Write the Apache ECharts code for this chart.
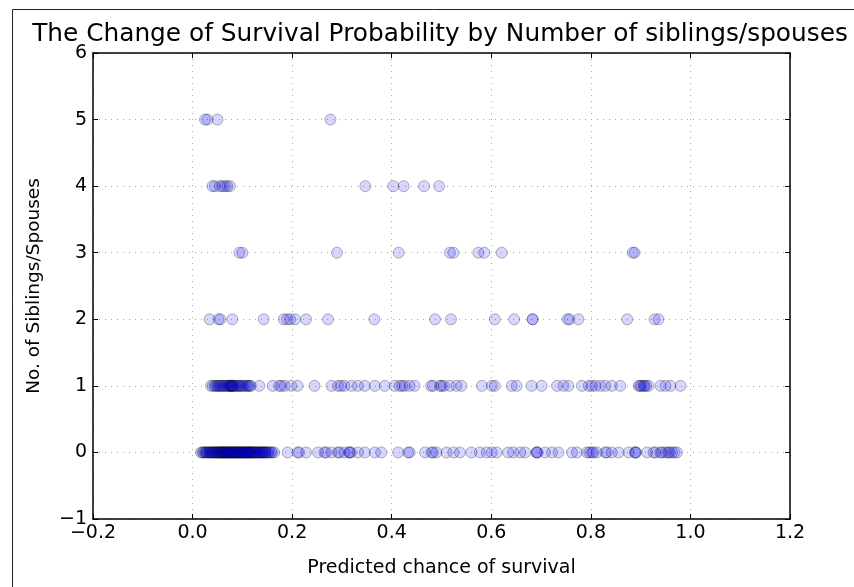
<!DOCTYPE html>
<html>
<head>
<meta charset="utf-8">
<script src="https://cdn.jsdelivr.net/npm/echarts@6/dist/echarts.min.js"></script>
<style>html,body{margin:0;padding:0;background:#fff}#c{width:854px;height:587px}</style>
</head>
<body>
<div id="c"></div>
<script>
var titleText = 'The Change of Survival Probability by Number of siblings/spouses';
var xName = 'Predicted chance of survival';
var yName = 'No. of Siblings/Spouses';
var xTicks = [-0.2, 0.0, 0.2, 0.4, 0.6, 0.8, 1.0, 1.2];
var yTicks = [-1, 0, 1, 2, 3, 4, 5, 6];

var sib0 = [0.017, 0.020, 0.022, 0.025, 0.027, 0.028, 0.031, 0.033, 0.035, 0.036, 0.038, 0.040, 0.041, 0.043, 0.045, 0.046, 0.048, 0.050, 0.051, 0.052, 0.054, 0.055, 0.057, 0.058, 0.059, 0.060, 0.062, 0.063, 0.064, 0.066, 0.067, 0.068, 0.070, 0.071, 0.072, 0.073, 0.075, 0.076, 0.077, 0.078, 0.080, 0.081, 0.082, 0.084, 0.085, 0.086, 0.088, 0.089, 0.090, 0.091, 0.093, 0.094, 0.095, 0.097, 0.098, 0.100, 0.101, 0.102, 0.104, 0.105, 0.106, 0.108, 0.109, 0.110, 0.112, 0.113, 0.114, 0.116, 0.117, 0.118, 0.120, 0.121, 0.122, 0.125, 0.126, 0.127, 0.130, 0.131, 0.132, 0.135, 0.136, 0.137, 0.140, 0.141, 0.142, 0.145, 0.146, 0.147, 0.150, 0.152, 0.155, 0.158, 0.160, 0.164, 0.191, 0.211, 0.214, 0.228, 0.252, 0.265, 0.268, 0.279, 0.292, 0.295, 0.305, 0.315, 0.315, 0.318, 0.332, 0.346, 0.366, 0.379, 0.413, 0.433, 0.436, 0.467, 0.480, 0.490, 0.483, 0.510, 0.524, 0.537, 0.560, 0.577, 0.591, 0.601, 0.611, 0.634, 0.644, 0.658, 0.668, 0.691, 0.691, 0.693, 0.708, 0.722, 0.735, 0.762, 0.772, 0.792, 0.797, 0.802, 0.805, 0.812, 0.829, 0.832, 0.842, 0.856, 0.876, 0.889, 0.889, 0.891, 0.913, 0.926, 0.930, 0.940, 0.943, 0.950, 0.955, 0.958, 0.963, 0.968, 0.973];
var sib1 = [0.037, 0.041, 0.045, 0.047, 0.050, 0.052, 0.055, 0.057, 0.060, 0.062, 0.065, 0.067, 0.070, 0.072, 0.074, 0.076, 0.077, 0.077, 0.079, 0.081, 0.082, 0.084, 0.087, 0.090, 0.092, 0.095, 0.097, 0.100, 0.103, 0.107, 0.110, 0.112, 0.115, 0.117, 0.134, 0.161, 0.174, 0.178, 0.185, 0.198, 0.211, 0.245, 0.279, 0.292, 0.298, 0.305, 0.319, 0.332, 0.346, 0.366, 0.386, 0.406, 0.416, 0.421, 0.426, 0.436, 0.446, 0.479, 0.497, 0.483, 0.500, 0.505, 0.517, 0.530, 0.540, 0.581, 0.601, 0.607, 0.641, 0.651, 0.681, 0.701, 0.732, 0.745, 0.755, 0.782, 0.796, 0.802, 0.809, 0.819, 0.829, 0.842, 0.859, 0.896, 0.899, 0.901, 0.906, 0.908, 0.911, 0.916, 0.940, 0.950, 0.960, 0.980];
var sib2 = [0.034, 0.052, 0.056, 0.080, 0.143, 0.183, 0.190, 0.196, 0.206, 0.228, 0.272, 0.365, 0.487, 0.519, 0.607, 0.646, 0.683, 0.683, 0.753, 0.757, 0.775, 0.873, 0.928, 0.936];
var sib3 = [0.094, 0.100, 0.290, 0.414, 0.517, 0.524, 0.574, 0.586, 0.621, 0.884, 0.888];
var sib4 = [0.040, 0.045, 0.055, 0.060, 0.065, 0.070, 0.075, 0.347, 0.403, 0.424, 0.465, 0.495];
var sib5 = [0.025, 0.030, 0.050, 0.277];
var rows = [sib0, sib1, sib2, sib3, sib4, sib5];

var points = [];
rows.forEach(function (arr, k) { arr.forEach(function (v) { points.push([v, k]); }); });

var FONT = 'DejaVu Sans';
function minus(v, d) { var s = Math.abs(v).toFixed(d); return (v < 0 ? '\u2212' : '') + s; }

var gridL = 93, gridR = 64, gridT = 53, gridB = 68;
var axisLine = { show: true, onZero: false, lineStyle: { color: '#000', width: 1.5 } };
var axisTick = { show: true, inside: true, length: 5, lineStyle: { color: '#000', width: 1 } };
var gridLine = { show: true, lineStyle: { color: '#aaa', type: [1, 5], width: 1 } };

var chart = echarts.init(document.getElementById('c'), null, { renderer: 'canvas' });
chart.setOption({
  animation: false,
  backgroundColor: '#fff',
  title: {
    text: titleText, left: 435, top: 17, textAlign: 'center',
    textStyle: { fontFamily: FONT, fontSize: 24.8, fontWeight: 'normal', color: '#000' }
  },
  grid: { left: gridL, right: gridR, top: gridT, bottom: gridB, containLabel: false },
  graphic: [{
    type: 'rect', silent: true, z: -1,
    shape: { x: 12.5, y: 9.5, width: 900, height: 700 },
    style: { fill: null, stroke: '#222', lineWidth: 1 }
  }],
  xAxis: [{
    type: 'value', min: -0.2, max: 1.2, interval: 0.2, position: 'bottom',
    name: xName, nameLocation: 'middle', nameGap: 40,
    nameTextStyle: { fontFamily: FONT, fontSize: 19, color: '#000' },
    axisLine: axisLine, axisTick: axisTick, splitLine: gridLine,
    axisLabel: { show: true, margin: 5, fontFamily: FONT, fontSize: 19, color: '#000',
      formatter: function (v) { return minus(v, 1); } }
  }, {
    type: 'value', min: -0.2, max: 1.2, interval: 0.2, position: 'top',
    axisLine: axisLine, axisTick: axisTick, splitLine: { show: false }, axisLabel: { show: false }
  }],
  yAxis: [{
    type: 'value', min: -1, max: 6, interval: 1, position: 'left',
    name: yName, nameLocation: 'middle', nameGap: 49, nameRotate: 90,
    nameTextStyle: { fontFamily: FONT, fontSize: 18.5, color: '#000' },
    axisLine: axisLine, axisTick: axisTick, splitLine: gridLine,
    axisLabel: { show: true, margin: 6, fontFamily: FONT, fontSize: 19, color: '#000',
      formatter: function (v) { return minus(v, 0); } }
  }, {
    type: 'value', min: -1, max: 6, interval: 1, position: 'right',
    axisLine: axisLine, axisTick: axisTick, splitLine: { show: false }, axisLabel: { show: false }
  }],
  series: [{
    type: 'scatter', xAxisIndex: 0, yAxisIndex: 0,
    data: points, symbol: 'circle', symbolSize: 11,
    itemStyle: { color: 'rgba(0,0,255,0.2)', borderColor: 'rgba(0,0,0,0.35)', borderWidth: 1 }
  }]
});
</script>
</body>
</html>
